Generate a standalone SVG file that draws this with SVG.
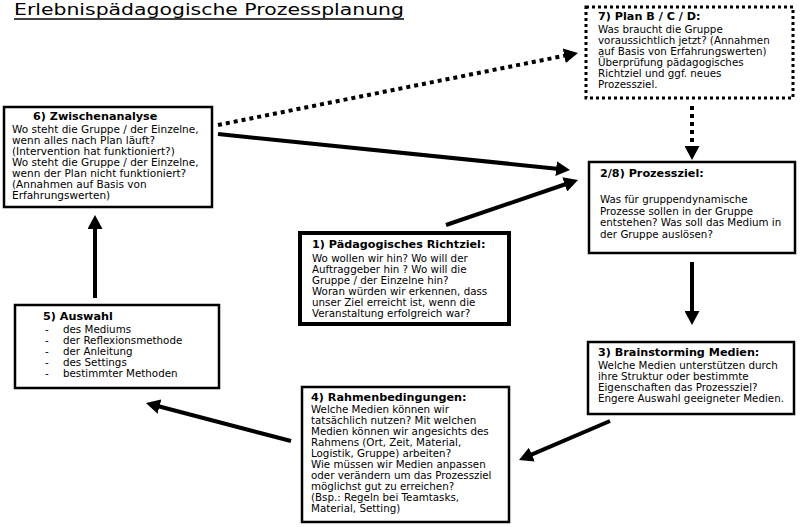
<svg xmlns="http://www.w3.org/2000/svg" width="800" height="527" viewBox="0 0 800 527">
<style>
text{font-family:"DejaVu Sans",Verdana,sans-serif;font-size:10.3px;fill:#000}
.b{font-weight:bold;font-size:11.2px}
.big{font-size:10.5px}
.box{fill:#fff;stroke:#000;stroke-width:2.5}
.thick{stroke-width:4}
.dotbox{fill:#fff;stroke:#000;stroke-width:3;stroke-dasharray:3 3}
.arr{fill:none;stroke:#000;stroke-width:4;marker-end:url(#ah)}
.dot{stroke-dasharray:4 4}
</style>
<defs>
<marker id="ah" viewBox="0 0 14 15" markerWidth="14" markerHeight="15" refX="3" refY="7.5" orient="auto" markerUnits="userSpaceOnUse">
<path d="M0,0 L14,7.5 L0,15 z" fill="#000"/>
</marker>
</defs>
<rect width="800" height="527" fill="#fff"/>
<g id="title">
<text x="14" y="15" style="font-size:16.5px" textLength="390" lengthAdjust="spacingAndGlyphs">Erlebnispädagogische Prozessplanung</text>
<line x1="14" y1="19" x2="404" y2="19" stroke="#000" stroke-width="1.3"/>
</g>
<g id="connectors">
<path class="arr dot" d="M218,125 L567.2,55.2"/>
<path class="arr" d="M218,134 L559.1,168.9"/>
<path class="arr" d="M446,225 L567.6,183.5"/>
<path class="arr dot" d="M692,106 L692,149"/>
<path class="arr" d="M692,262 L692,314"/>
<path class="arr" d="M610,421 L529.1,455.7"/>
<path class="arr" d="M291,441 L156.6,405.8"/>
<path class="arr" d="M95,298 L95,226"/>
</g>
<g id="node7">
<rect class="dotbox" x="586" y="7" width="207" height="91"/>
<text x="598" y="19.5" class="b">7) Plan B / C / D:</text>
<text x="598" y="33">Was braucht die Gruppe</text>
<text x="598" y="44">voraussichtlich jetzt? (Annahmen</text>
<text x="598" y="55">auf Basis von Erfahrungswerten)</text>
<text x="598" y="66">Überprüfung pädagogisches</text>
<text x="598" y="77">Richtziel und ggf. neues</text>
<text x="598" y="88">Prozessziel.</text>
</g>
<g id="node6">
<rect class="box" x="4" y="107" width="208" height="100"/>
<text x="33" y="119.5" class="b">6) Zwischenanalyse</text>
<text x="12" y="133" class="big">Wo steht die Gruppe / der Einzelne,</text>
<text x="12" y="144" class="big">wenn alles nach Plan läuft?</text>
<text x="12" y="155" class="big">(Intervention hat funktioniert?)</text>
<text x="12" y="166" class="big">Wo steht die Gruppe / der Einzelne,</text>
<text x="12" y="177" class="big">wenn der Plan nicht funktioniert?</text>
<text x="12" y="188" class="big">(Annahmen auf Basis von</text>
<text x="12" y="199" class="big">Erfahrungswerten)</text>
</g>
<g id="node2">
<rect class="box" x="589" y="162" width="206" height="91"/>
<text x="600" y="177" class="b">2/8) Prozessziel:</text>
<text x="600" y="203">Was für gruppendynamische</text>
<text x="600" y="214.5">Prozesse sollen in der Gruppe</text>
<text x="600" y="226">entstehen? Was soll das Medium in</text>
<text x="600" y="237.5">der Gruppe auslösen?</text>
</g>
<g id="node1">
<rect class="box thick" x="300" y="233" width="209" height="91"/>
<text x="312" y="248" class="b">1) Pädagogisches Richtziel:</text>
<text x="312" y="262">Wo wollen wir hin? Wo will der</text>
<text x="312" y="273">Auftraggeber hin ? Wo will die</text>
<text x="312" y="284">Gruppe / der Einzelne hin?</text>
<text x="312" y="295">Woran würden wir erkennen, dass</text>
<text x="312" y="306">unser Ziel erreicht ist, wenn die</text>
<text x="312" y="317">Veranstaltung erfolgreich war?</text>
</g>
<g id="node5">
<rect class="box" x="15" y="305" width="204" height="83"/>
<text x="43" y="319.5" class="b">5) Auswahl</text>
<text x="45" y="333">-</text><text x="63" y="333">des Mediums</text>
<text x="45" y="344">-</text><text x="63" y="344">der Reflexionsmethode</text>
<text x="45" y="355">-</text><text x="63" y="355">der Anleitung</text>
<text x="45" y="366">-</text><text x="63" y="366">des Settings</text>
<text x="45" y="377">-</text><text x="63" y="377">bestimmter Methoden</text>
</g>
<g id="node3">
<rect class="box" x="588" y="342" width="206" height="72"/>
<text x="598" y="355.5" class="b">3) Brainstorming Medien:</text>
<text x="598" y="369">Welche Medien unterstützen durch</text>
<text x="598" y="380">ihre Struktur oder bestimmte</text>
<text x="598" y="391">Eigenschaften das Prozessziel?</text>
<text x="598" y="402">Engere Auswahl geeigneter Medien.</text>
</g>
<g id="node4">
<rect class="box" x="302" y="387" width="207" height="135"/>
<text x="311" y="400.5" class="b">4) Rahmenbedingungen:</text>
<text x="311" y="413">Welche Medien können wir</text>
<text x="311" y="424">tatsächlich nutzen? Mit welchen</text>
<text x="311" y="435">Medien können wir angesichts des</text>
<text x="311" y="446">Rahmens (Ort, Zeit, Material,</text>
<text x="311" y="457">Logistik, Gruppe) arbeiten?</text>
<text x="311" y="468">Wie müssen wir Medien anpassen</text>
<text x="311" y="479">oder verändern um das Prozessziel</text>
<text x="311" y="490">möglichst gut zu erreichen?</text>
<text x="311" y="501">(Bsp.: Regeln bei Teamtasks,</text>
<text x="311" y="512">Material, Setting)</text>
</g>
</svg>
